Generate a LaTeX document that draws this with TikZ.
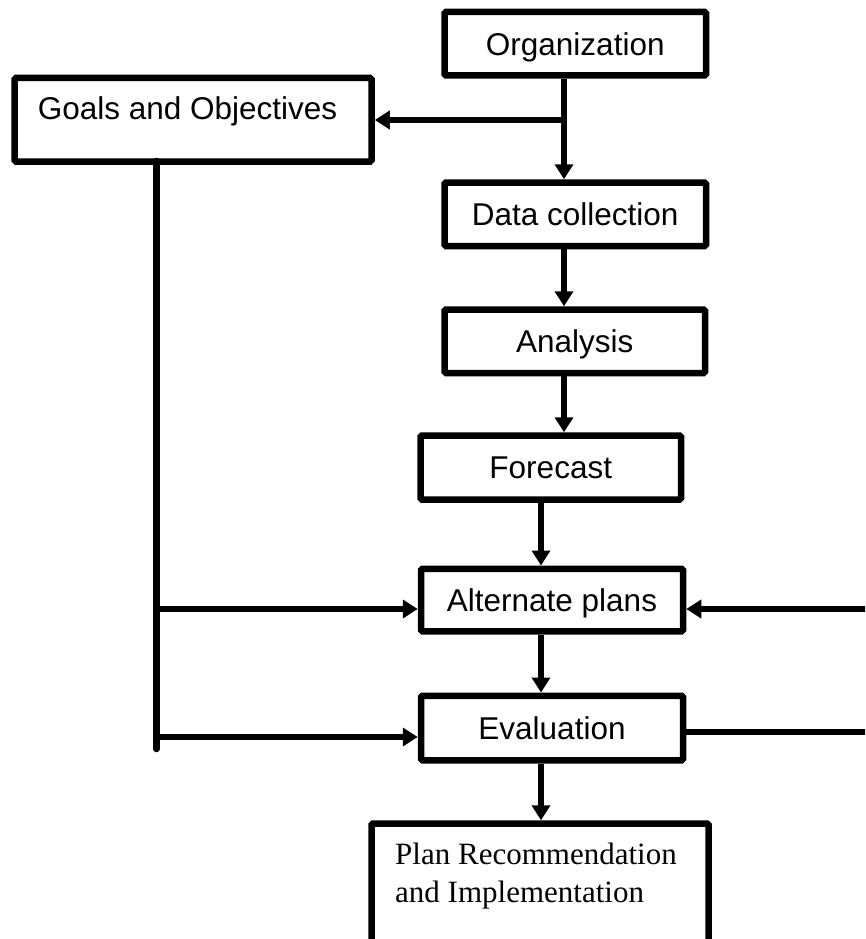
\documentclass[tikz,border=0pt]{standalone}
\usepackage{fontspec}
\setmainfont{Liberation Sans}
\newfontfamily\planserif{Liberation Serif}
\usetikzlibrary{arrows.meta,calc}
\begin{document}
\begin{tikzpicture}[x=1pt,y=-1pt,
  box/.style={draw, line width=6.5pt, rounded corners=1.5pt, inner sep=0pt,
    font=\fontsize{31.5}{38}\selectfont, text height=22.6pt, text depth=0pt},
  conn/.style={line width=6.5pt},
  arr/.style={conn, -{Triangle[length=15pt,width=18pt]}}]
\useasboundingbox (0,0) rectangle (865,939);
\clip (0,0) rectangle (865,939);

% boxes
\node[box, minimum width=261.5pt, minimum height=63.5pt] (org) at (575.25,43.75) {Organization};
\node[box, minimum width=357pt, text height=41.75pt, text depth=41.75pt] (goals) at (193,119.75) {Goals and Objectives\hspace*{11pt}};
\node[box, minimum width=261.5pt, minimum height=63.5pt] (data) at (575.25,214.25) {Data collection};
\node[box, minimum width=260.5pt, minimum height=63.5pt] (anal) at (574.75,341.25) {Analysis};
\node[box, minimum width=260.5pt, minimum height=64pt] (fore) at (550.75,467.5) {Forecast};
\node[box, minimum width=262pt, minimum height=62.5pt] (alt) at (552,600) {Alternate plans};
\node[box, minimum width=262pt, minimum height=64.5pt] (eval) at (552,728) {Evaluation};
\node[draw, line width=6.5pt, rounded corners=1.5pt, inner sep=0pt, anchor=north west,
  minimum width=337pt, minimum height=200pt] (plan) at (368.25,820.25) {};
\node[anchor=north west, align=left, inner sep=0pt,
  font=\planserif\fontsize{31}{38}\selectfont] (plantext) at (395,842.5)
  {Plan Recommendation\\and Implementation};

% helper coordinates
\coordinate (xa) at (564,0);
\coordinate (xc) at (541,0);
\coordinate (branch) at (564,120);
\coordinate (bustop) at (156.5,161);
\coordinate (busend) at (156.5,749);
\coordinate (ya) at (0,609);
\coordinate (yc) at (0,737);
\coordinate (rin) at (872,609);
\coordinate (rout) at (872,732);

% main chain
\draw[arr] (org.south -| xa) -- (data.north -| xa);
\draw[arr] (branch) -- (goals.east |- branch);
\draw[arr] (data.south -| xa) -- (anal.north -| xa);
\draw[arr] (anal.south -| xa) -- (fore.north -| xa);
\draw[arr] (fore.south -| xc) -- (alt.north -| xc);
\draw[arr] (alt.south -| xc) -- (eval.north -| xc);
\draw[arr] (eval.south -| xc) -- (plan.north -| xc);

% left bus
\draw[conn, line cap=round] (bustop) -- (busend);
\draw[arr] (bustop |- ya) -- (alt.west |- ya);
\draw[arr] (bustop |- yc) -- (eval.west |- yc);

% right feedback
\draw[arr] (rin) -- (alt.east |- rin);
\draw[conn] (eval.east |- rout) -- (rout);
\end{tikzpicture}
\end{document}
